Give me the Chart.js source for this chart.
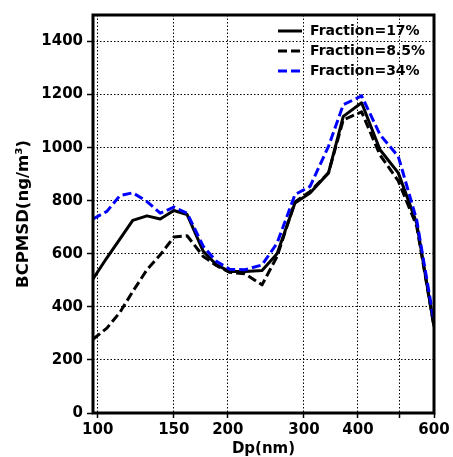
<!DOCTYPE html>
<html>
<head>
<meta charset="utf-8">
<script src="https://cdn.jsdelivr.net/npm/chart.js@4.4.0/dist/chart.umd.min.js"></script>
<style>
  html, body { margin: 0; padding: 0; background: #fff; }
  #wrap { width: 453px; height: 457px; }
</style>
</head>
<body>
<div id="wrap"><canvas id="bcChart"></canvas></div>
<script>
// particle diameter bins (nm)
const diameters = [97.5, 105, 112.5, 120.5, 130, 139.5, 150, 161, 175.5, 188.5, 202, 219, 240, 260, 286, 310, 342, 370, 408, 450, 496, 547, 600];
// BC mass size distribution per coating fraction
const frac17 = [505, 585, 655, 726, 743, 731, 763, 748, 609, 558, 533, 533, 537, 600, 791, 829, 905, 1118, 1169, 992, 905, 716, 326];
const frac85 = [278, 320, 379, 458, 540, 596, 663, 668, 590, 555, 530, 525, 483, 590, 795, 835, 905, 1105, 1135, 972, 875, 705, 326];
const frac34 = [731, 760, 819, 830, 797, 753, 776, 753, 628, 571, 542, 540, 558, 640, 823, 854, 1005, 1162, 1195, 1049, 967, 728, 345];
const xTicks = [100, 150, 200, 300, 400, 500, 600];
const xTickLabels = ['100', '150', '200', '300', '400', '', '600'];

const FONT = '"DejaVu Sans", sans-serif';

function toPoints(values) {
    return values.map((v, i) => ({ x: diameters[i], y: v }));
}

// legend drawn inside the plot, top right
const insideLegend = {
    id: 'insideLegend',
    afterDraw(chart) {
        const ctx = chart.ctx;
        const area = chart.chartArea;
        const x0 = area.right - 156;
        ctx.save();
        ctx.font = 'bold 14px ' + FONT;
        ctx.textBaseline = 'middle';
        ctx.lineCap = 'butt';
        chart.data.datasets.forEach((ds, i) => {
            const y = area.top + 16 + i * 20;
            ctx.beginPath();
            ctx.setLineDash(ds.borderDash || []);
            ctx.strokeStyle = ds.borderColor;
            ctx.lineWidth = ds.borderWidth;
            ctx.moveTo(x0, y);
            ctx.lineTo(x0 + 24, y);
            ctx.stroke();
            ctx.setLineDash([]);
            ctx.fillStyle = '#000';
            ctx.fillText(ds.label, x0 + 32, y);
        });
        ctx.restore();
    }
};

// thick black frame round the axes
const frame = {
    id: 'frame',
    afterDatasetsDraw(chart) {
        const ctx = chart.ctx;
        const a = chart.chartArea;
        ctx.save();
        ctx.strokeStyle = '#000';
        ctx.lineWidth = 3;
        ctx.strokeRect(a.left, a.top, a.right - a.left, a.bottom - a.top);
        ctx.restore();
    }
};

const gridOpts = {
    color: '#000',
    lineWidth: 1,
    tickColor: '#000',
    tickWidth: 1.5,
    tickBorderDash: []
};

new Chart(document.getElementById('bcChart'), {
    type: 'line',
    data: {
        datasets: [{
            label: 'Fraction=17%',
            data: toPoints(frac17),
            borderColor: '#000000',
            borderWidth: 3,
            order: 3
        }, {
            label: 'Fraction=8.5%',
            data: toPoints(frac85),
            borderColor: '#000000',
            borderWidth: 3,
            borderDash: [9, 4],
            order: 2
        }, {
            label: 'Fraction=34%',
            data: toPoints(frac34),
            borderColor: '#0000ff',
            borderWidth: 3,
            borderDash: [9, 4],
            order: 1
        }]
    },
    options: {
        responsive: true,
        maintainAspectRatio: false,
        animation: false,
        layout: { padding: { left: 0, right: 19, top: 15, bottom: 0 } },
        elements: {
            point: { radius: 0 },
            line: { tension: 0, borderJoinStyle: 'round', borderCapStyle: 'butt', fill: false }
        },
        plugins: {
            legend: { display: false },
            tooltip: { enabled: false }
        },
        scales: {
            x: {
                type: 'logarithmic',
                min: 97.5,
                max: 600,
                afterBuildTicks: s => { s.ticks = xTicks.map(v => ({ value: v })); },
                afterFit: s => { s.height = 44; },
                ticks: {
                    callback: (v, i) => xTickLabels[i],
                    autoSkip: false,
                    maxRotation: 0,
                    padding: 3,
                    color: '#000',
                    font: { family: FONT, size: 15, weight: 'bold' }
                },
                grid: Object.assign({ tickLength: 5 }, gridOpts),
                border: { display: false, dash: [1.5, 2] },
                title: {
                    display: true,
                    text: 'Dp(nm)',
                    color: '#000',
                    padding: 0,
                    font: { family: FONT, size: 15, weight: 'bold', lineHeight: 1 }
                }
            },
            y: {
                min: 0,
                max: 1500,
                afterFit: s => { s.width = 93; },
                ticks: {
                    stepSize: 200,
                    includeBounds: false,
                    padding: 4,
                    callback: v => String(v),
                    color: '#000',
                    font: { family: FONT, size: 15, weight: 'bold' }
                },
                grid: Object.assign({ tickLength: 6 }, gridOpts),
                border: { display: false, dash: [1.5, 2] },
                title: {
                    display: true,
                    text: 'BCPMSD(ng/m³)',
                    color: '#000',
                    padding: { top: 14, bottom: 0 },
                    font: { family: FONT, size: 16.5, weight: 'bold' }
                }
            }
        }
    },
    plugins: [insideLegend, frame]
});
</script>
</body>
</html>
